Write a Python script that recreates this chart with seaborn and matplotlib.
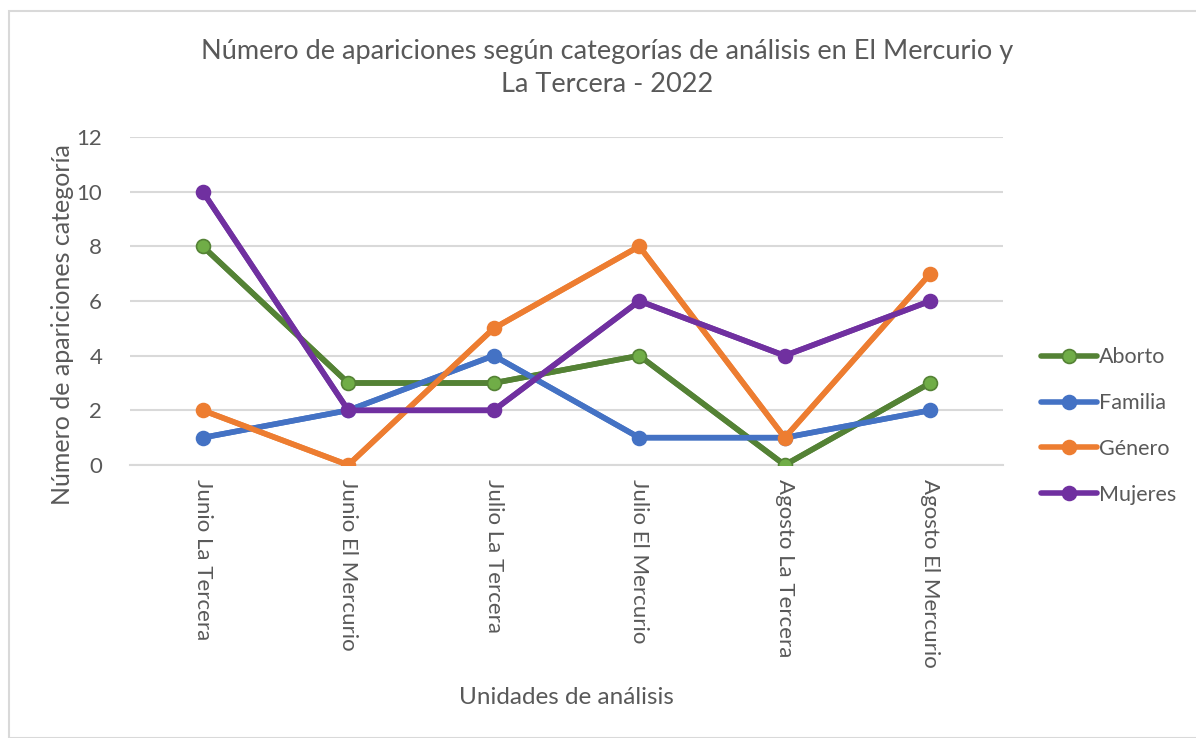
import seaborn as sns
import pandas as pd
import matplotlib.pyplot as plt
from matplotlib.patches import Rectangle

unidades = ['Junio La Tercera', 'Junio El Mercurio', 'Julio La Tercera',
            'Julio El Mercurio', 'Agosto La Tercera', 'Agosto El Mercurio']
aborto = [8, 3, 3, 4, 0, 3]
familia = [1, 2, 4, 1, 1, 2]
genero = [2, 0, 5, 8, 1, 7]
mujeres = [10, 2, 2, 6, 4, 6]

series = ['Aborto', 'Familia', 'Género', 'Mujeres']
line_colors = ['#548235', '#4472C4', '#ED7D31', '#7030A0']
face_colors = ['#70AD47', '#4472C4', '#ED7D31', '#7030A0']

df = pd.DataFrame({'Unidad': unidades, 'Aborto': aborto, 'Familia': familia,
                   'Género': genero, 'Mujeres': mujeres})
df['pos'] = range(len(unidades))
long_df = df.melt(id_vars=['Unidad', 'pos'], value_vars=series,
                  var_name='Categoria', value_name='Valor')

sns.set_style("white")
plt.rcParams['font.family'] = ['Lato', 'DejaVu Sans']
gray = '#595959'

fig = plt.figure(figsize=(11.96, 7.38), dpi=100)
ax = fig.add_axes([130 / 1196, 1 - 465 / 738, 873 / 1196, 328 / 738])

sns.lineplot(data=long_df, x='pos', y='Valor', hue='Categoria',
             palette=dict(zip(series, line_colors)), linewidth=4, ax=ax,
             legend=False, zorder=3)
for name, lc, fc in zip(series, line_colors, face_colors):
    ax.plot(df['pos'], df[name], 'o', markersize=10, markerfacecolor=fc,
            markeredgecolor=lc, markeredgewidth=1.2, zorder=4, label=name,
            linestyle='-', linewidth=4, color=lc)

ax.set_xlim(-0.5, len(unidades) - 0.5)
ax.set_ylim(0, 12)
ax.set_yticks(range(0, 13, 2))
ax.grid(axis='y', color='#d9d9d9', linewidth=1.5)
ax.set_axisbelow(True)
for s in ['top', 'right', 'left']:
    ax.spines[s].set_visible(False)
ax.spines['bottom'].set_color('#d9d9d9')
ax.spines['bottom'].set_linewidth(1.5)

ax.set_xticks(range(len(unidades)))
ax.set_xticklabels(unidades, rotation=-90, fontsize=16, color=gray)
ax.set_xticks([i + 0.5 for i in range(len(unidades) - 1)], minor=True)
ax.tick_params(axis='x', which='major', length=0, pad=10)
ax.tick_params(axis='x', which='minor', length=7, width=1.5, color='#d9d9d9')
ax.tick_params(axis='y', length=0, labelsize=16, labelcolor=gray, pad=20)

ax.set_xlabel('Unidades de análisis', fontsize=17.5, color=gray, va='center')
ax.xaxis.set_label_coords(0.5, (465 - 697) / 328)
ax.set_ylabel('Número de apariciones categoría', fontsize=18, color=gray, va='center')
ax.yaxis.set_label_coords((63 - 130) / 873, (465 - 325) / 328)

fig.text(0.508, 1 - 68 / 738, 'Número de apariciones según categorías de análisis en El Mercurio y\nLa Tercera - 2022',
         ha='center', va='center', fontsize=19.5, color=gray, linespacing=1.45)

handles, labels = ax.get_legend_handles_labels()
fig.legend(handles, labels, loc='center left', bbox_to_anchor=(1041 / 1196, 1 - 426 / 738),
           frameon=False, fontsize=15.5, labelcolor=gray, labelspacing=1.2,
           handlelength=2.6, handletextpad=0.1, borderpad=0, borderaxespad=0)

fig.patches.append(Rectangle((9 / 1196, 0), 1190 / 1196, 1 - 11 / 738,
                             transform=fig.transFigure, fill=False,
                             edgecolor='#d9d9d9', linewidth=1.5))

fig.savefig('out.png', dpi=100)
